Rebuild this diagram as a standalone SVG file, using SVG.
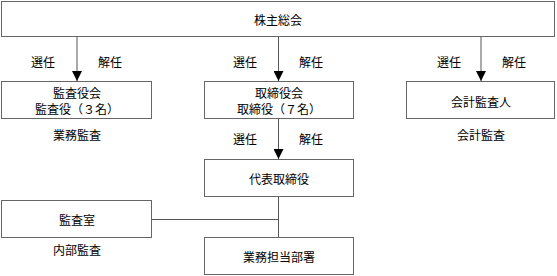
<svg xmlns="http://www.w3.org/2000/svg" width="557" height="276" viewBox="0 0 557 276">
<style>
.box{fill:#fff;stroke:#666;stroke-width:1}
text{font-family:"Noto Sans CJK JP","Noto Sans",sans-serif;font-size:12px;fill:#000;text-anchor:middle;dominant-baseline:central}
.ln{stroke:#555;stroke-width:1;fill:none}
</style>
<defs>
<marker id="ah" viewBox="0 0 10 10" refX="10" refY="5" markerWidth="10" markerHeight="10" markerUnits="userSpaceOnUse" orient="auto">
<path d="M0,0 L10,5 L0,10 Z" fill="#000"/>
</marker>
</defs>
<g id="connectors">
<line class="ln" x1="77" y1="37" x2="77" y2="81" marker-end="url(#ah)"/>
<line class="ln" x1="278.5" y1="37" x2="278.5" y2="81" marker-end="url(#ah)"/>
<line class="ln" x1="481" y1="37" x2="481" y2="81" marker-end="url(#ah)"/>
<line class="ln" x1="278.5" y1="119" x2="278.5" y2="159" marker-end="url(#ah)"/>
<line class="ln" x1="278.5" y1="197" x2="278.5" y2="238"/>
<line class="ln" x1="152" y1="219.5" x2="278.5" y2="219.5"/>
<text x="43" y="61">選任</text>
<text x="110" y="61">解任</text>
<text x="245" y="61">選任</text>
<text x="311" y="61">解任</text>
<text x="449" y="61">選任</text>
<text x="514" y="61">解任</text>
<text x="245" y="138">選任</text>
<text x="311" y="138">解任</text>
</g>
<g id="n-shareholders">
<rect class="box" x="1.5" y="1.5" width="553" height="35"/>
<text x="278" y="19.5">株主総会</text>
</g>
<g id="n-auditboard">
<rect class="box" x="1.5" y="81.5" width="150" height="37"/>
<text x="77" y="92">監査役会</text>
<text x="77" y="108">監査役（３名）</text>
<text x="77" y="134">業務監査</text>
</g>
<g id="n-board">
<rect class="box" x="204.5" y="81.5" width="149" height="37"/>
<text x="279" y="92">取締役会</text>
<text x="279" y="108">取締役（７名）</text>
</g>
<g id="n-accountant">
<rect class="box" x="406.5" y="81.5" width="148" height="37"/>
<text x="481" y="101">会計監査人</text>
<text x="481" y="134">会計監査</text>
</g>
<g id="n-ceo">
<rect class="box" x="204.5" y="159.5" width="149" height="37"/>
<text x="279" y="178">代表取締役</text>
</g>
<g id="n-auditroom">
<rect class="box" x="1.5" y="200.5" width="150" height="37"/>
<text x="77" y="219">監査室</text>
<text x="77" y="249">内部監査</text>
</g>
<g id="n-dept">
<rect class="box" x="204.5" y="237.5" width="149" height="37"/>
<text x="279" y="256">業務担当部署</text>
</g>
</svg>
